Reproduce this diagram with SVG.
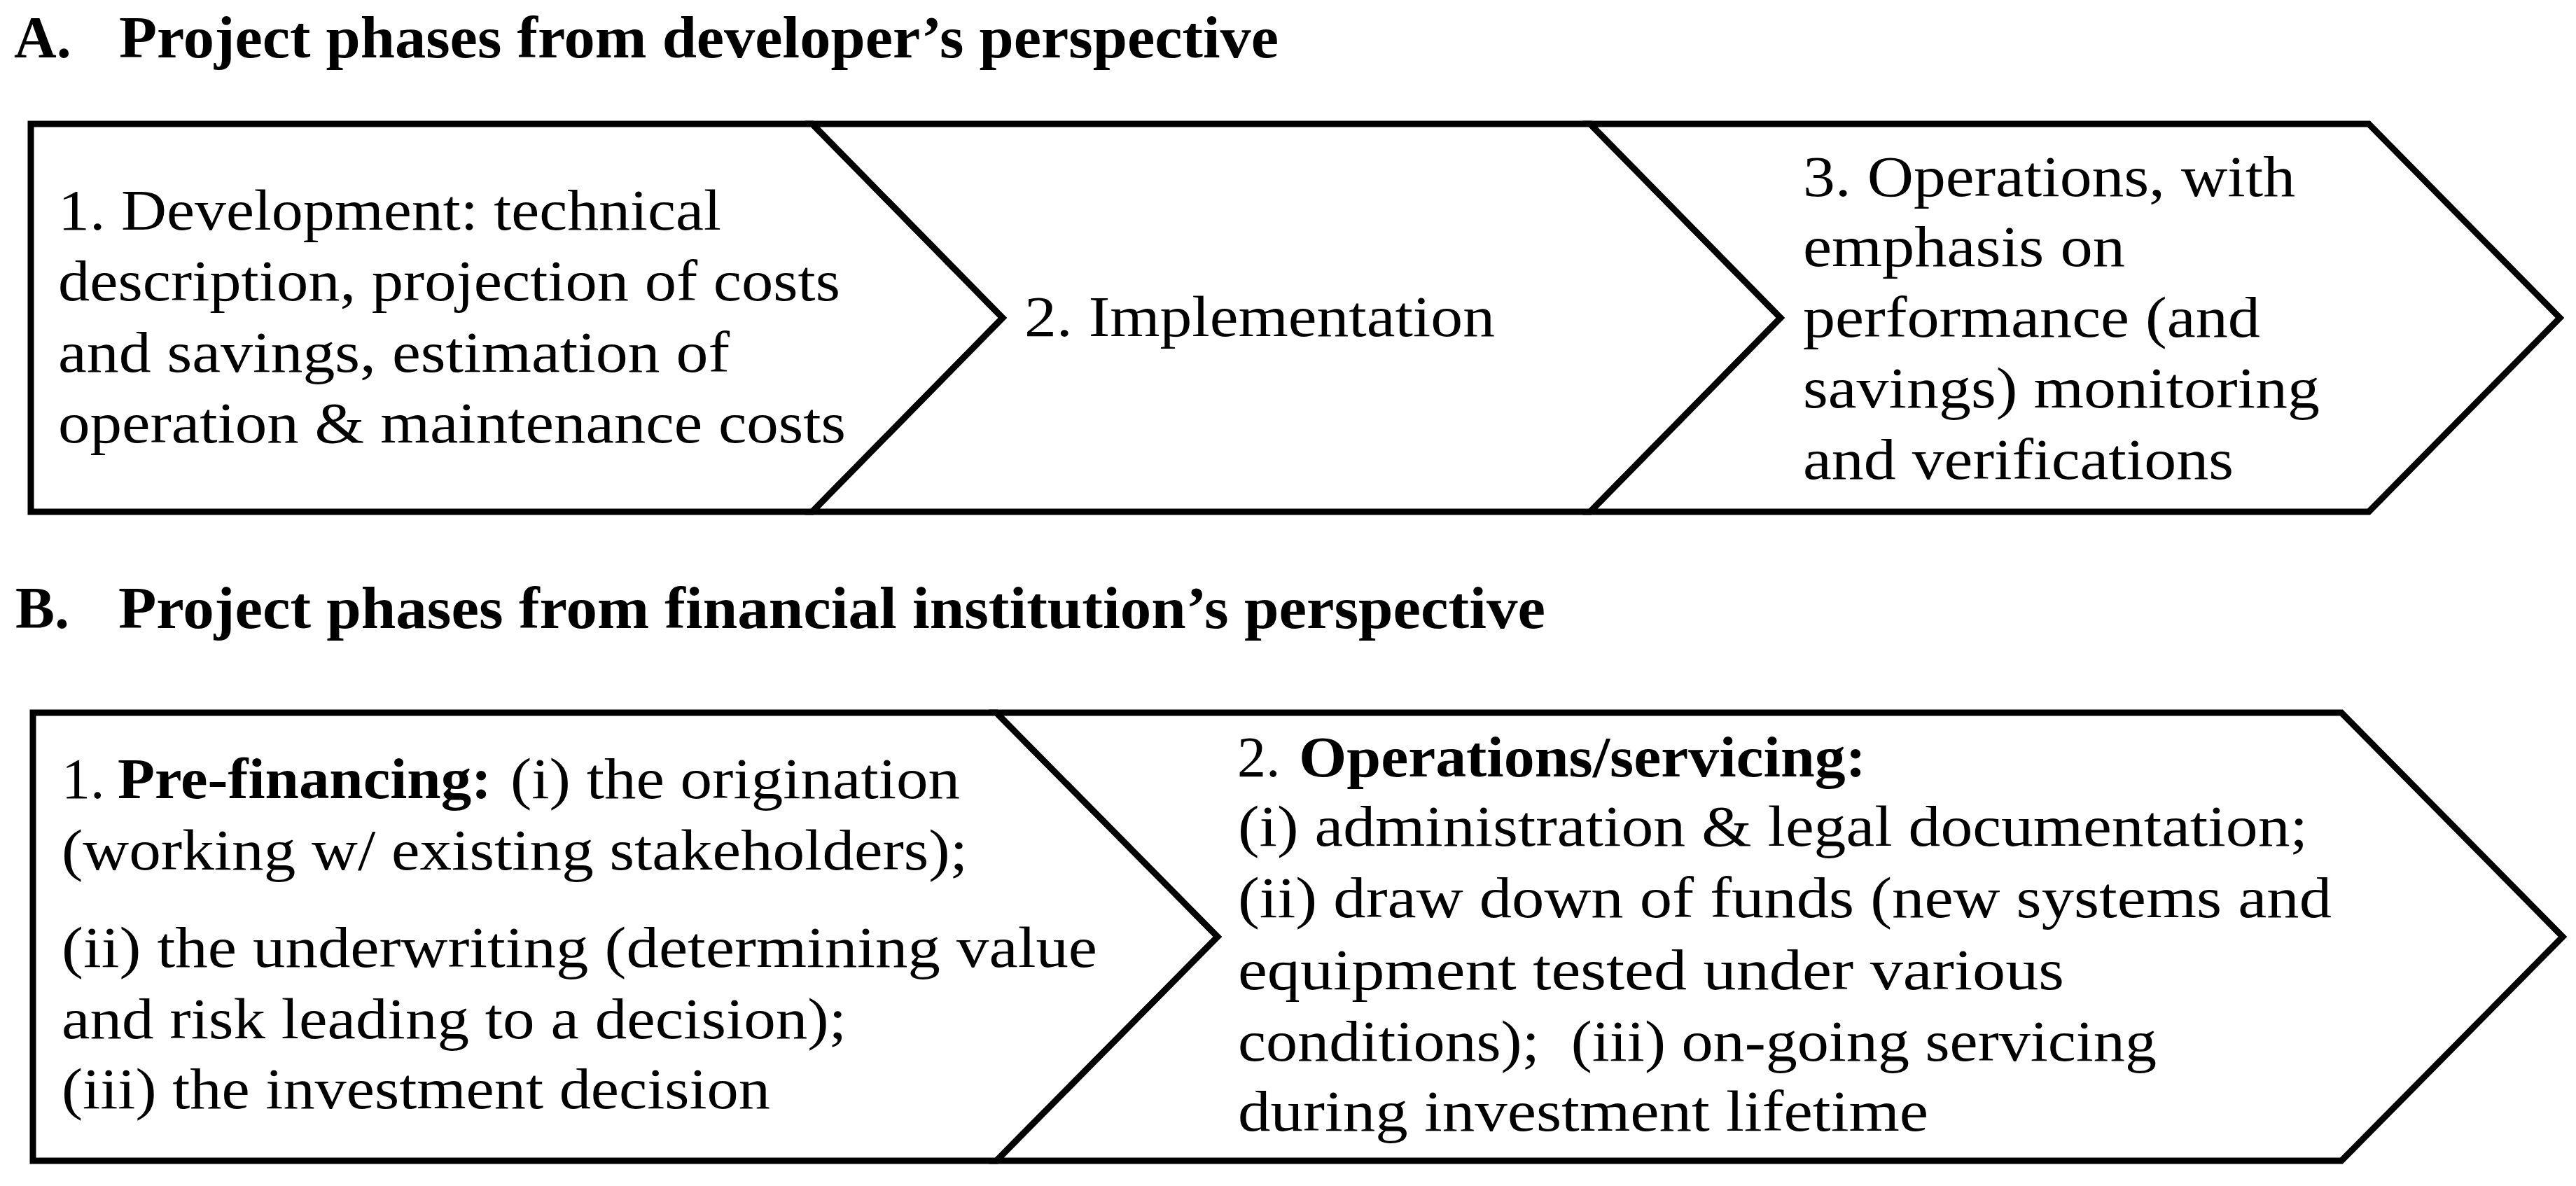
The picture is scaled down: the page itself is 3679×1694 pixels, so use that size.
<svg xmlns="http://www.w3.org/2000/svg" width="3679" height="1694" viewBox="0 0 3679 1694">
<style>
  .shape { fill: #ffffff; stroke: #000000; stroke-width: 9; stroke-linejoin: miter; stroke-miterlimit: 10; }
  text { font-family: "Liberation Serif", "Times New Roman", serif; fill: #000000; }
  .t { font-size: 82px; }
  .b { font-size: 82px; font-weight: bold; }
  .h { font-size: 84px; font-weight: bold; }
</style>
<rect x="0" y="0" width="3679" height="1694" fill="#ffffff"/>

<g id="title-a">
  <text class="h" x="20" y="82">A.</text>
  <text class="h" x="170" y="82" textLength="1656" lengthAdjust="spacingAndGlyphs">Project phases from developer’s perspective</text>
</g>

<g id="a1-development">
  <polygon class="shape" points="44,177 1160,177 1432,454 1160,731 44,731"/>
  <text class="t" x="83" y="328" textLength="947" lengthAdjust="spacingAndGlyphs">1. Development: technical</text>
  <text class="t" x="83" y="429" textLength="1117" lengthAdjust="spacingAndGlyphs">description, projection of costs</text>
  <text class="t" x="83" y="531" textLength="959" lengthAdjust="spacingAndGlyphs">and savings, estimation of</text>
  <text class="t" x="83" y="632" textLength="1125" lengthAdjust="spacingAndGlyphs">operation &amp; maintenance costs</text>
</g>

<g id="a2-implementation">
  <polygon class="shape" points="1160,177 2271,177 2543,454 2271,731 1160,731 1432,454"/>
  <text class="t" x="1463" y="480" textLength="672" lengthAdjust="spacingAndGlyphs">2. Implementation</text>
</g>

<g id="a3-operations">
  <polygon class="shape" points="2271,177 3383,177 3656,454 3383,731 2271,731 2543,454"/>
  <text class="t" x="2575" y="280" textLength="703" lengthAdjust="spacingAndGlyphs">3. Operations, with</text>
  <text class="t" x="2575" y="380" textLength="460" lengthAdjust="spacingAndGlyphs">emphasis on</text>
  <text class="t" x="2575" y="481" textLength="653" lengthAdjust="spacingAndGlyphs">performance (and</text>
  <text class="t" x="2575" y="582" textLength="738" lengthAdjust="spacingAndGlyphs">savings) monitoring</text>
  <text class="t" x="2575" y="684" textLength="615" lengthAdjust="spacingAndGlyphs">and verifications</text>
</g>

<g id="title-b">
  <text class="h" x="22" y="897">B.</text>
  <text class="h" x="169" y="897" textLength="2038" lengthAdjust="spacingAndGlyphs">Project phases from financial institution’s perspective</text>
</g>

<g id="b1-prefinancing">
  <polygon class="shape" points="47,1018 1423,1018 1739,1338 1423,1658 47,1658"/>
  <text class="t" x="88" y="1140">1.</text>
  <text class="b" x="168" y="1140" textLength="534" lengthAdjust="spacingAndGlyphs">Pre-financing:</text>
  <text class="t" x="729" y="1140" textLength="642" lengthAdjust="spacingAndGlyphs">(i) the origination</text>
  <text class="t" x="88" y="1242" textLength="1294" lengthAdjust="spacingAndGlyphs">(working w/ existing stakeholders);</text>
  <text class="t" x="88" y="1381" textLength="1479" lengthAdjust="spacingAndGlyphs">(ii) the underwriting (determining value</text>
  <text class="t" x="88" y="1483" textLength="1121" lengthAdjust="spacingAndGlyphs">and risk leading to a decision);</text>
  <text class="t" x="88" y="1583" textLength="1012" lengthAdjust="spacingAndGlyphs">(iii) the investment decision</text>
</g>

<g id="b2-operations-servicing">
  <polygon class="shape" points="1423,1018 3344,1018 3660,1338 3344,1658 1423,1658 1739,1338"/>
  <text class="t" x="1767" y="1109">2.</text>
  <text class="b" x="1855" y="1109" textLength="810" lengthAdjust="spacingAndGlyphs">Operations/servicing:</text>
  <text class="t" x="1768" y="1208" textLength="1528" lengthAdjust="spacingAndGlyphs">(i) administration &amp; legal documentation;</text>
  <text class="t" x="1768" y="1310" textLength="1562" lengthAdjust="spacingAndGlyphs">(ii) draw down of funds (new systems and</text>
  <text class="t" x="1768" y="1413" textLength="1180" lengthAdjust="spacingAndGlyphs">equipment tested under various</text>
  <text class="t" x="1768" y="1515" textLength="1312" lengthAdjust="spacingAndGlyphs" xml:space="preserve">conditions);  (iii) on-going servicing</text>
  <text class="t" x="1768" y="1615" textLength="986" lengthAdjust="spacingAndGlyphs">during investment lifetime</text>
</g>
</svg>
